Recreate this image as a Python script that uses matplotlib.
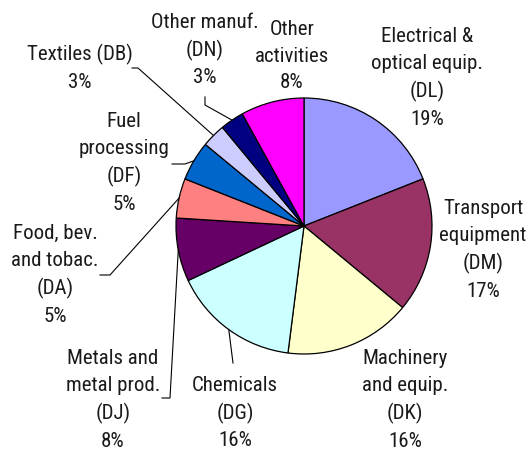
import numpy as np
import matplotlib.pyplot as plt
from matplotlib import font_manager as fm

labels = ['Electrical &\noptical equip.\n(DL)', 'Transport\nequipment\n(DM)',
          'Machinery\nand equip.\n(DK)', 'Chemicals\n(DG)',
          'Metals and\nmetal prod.\n(DJ)', 'Food, bev.\nand tobac.\n(DA)',
          'Fuel\nprocessing\n(DF)', 'Textiles (DB)', 'Other manuf.\n(DN)',
          'Other\nactivities']
shares = [19, 17, 16, 16, 8, 5, 5, 3, 3, 8]
colors = ['#9999FF', '#993366', '#FFFFCC', '#CCFFFF', '#660066',
          '#FF8080', '#0066CC', '#CCCCFF', '#000080', '#FF00FF']

# narrow face like the original; fall back to Liberation Sans if missing
try:
    fm.findfont('Roboto Condensed', fallback_to_default=False)
    font, fsize, lsp = 'Roboto Condensed', 15, 1.5
except ValueError:
    font, fsize, lsp = 'Liberation Sans', 13, 1.7
plt.rcParams['font.family'] = [font, 'DejaVu Sans']

W, H = 531, 450
fig = plt.figure(figsize=(W / 100, H / 100), dpi=100)
ax = fig.add_axes([0, 0, 1, 1])

cx, cy, r = 304, H - 226, 128
wedges, _ = ax.pie(shares, colors=colors, startangle=90, counterclock=False,
                   center=(cx, cy), radius=r,
                   wedgeprops=dict(edgecolor='black', linewidth=0.9))
ax.set_xlim(0, W)
ax.set_ylim(0, H)
ax.set_aspect('equal')
ax.axis('off')

# label centres (image px, top origin) and leader polylines on the text side
text_pos = [(427, 78), (483, 250), (405, 400), (235, 413), (113, 400),
            (55, 275), (124, 163), (80, 68), (205, 50), (292, 56)]
leaders = {3: [(233, 363)],
           4: [(162, 398), (170, 398)],
           5: [(100, 275), (110, 275)],
           6: [(172, 164), (185, 164)],
           7: [(132, 68), (138, 68)],
           8: [(205, 97), (205, 105)]}

for i, (w, lab, sh) in enumerate(zip(wedges, labels, shares)):
    tx, ty = text_pos[i]
    ax.text(tx, H - ty, f'{lab}\n{sh}%', ha='center', va='center',
            fontsize=fsize, linespacing=lsp, color='#1a1a1a')
    if i in leaders:
        ang = np.deg2rad((w.theta1 + w.theta2) / 2)
        pts = [(x, H - y) for x, y in leaders[i]]
        pts.append((cx + r * np.cos(ang), cy + r * np.sin(ang)))
        xs, ys = zip(*pts)
        ax.plot(xs, ys, color='black', linewidth=0.8)

fig.savefig('out.png', dpi=100)
